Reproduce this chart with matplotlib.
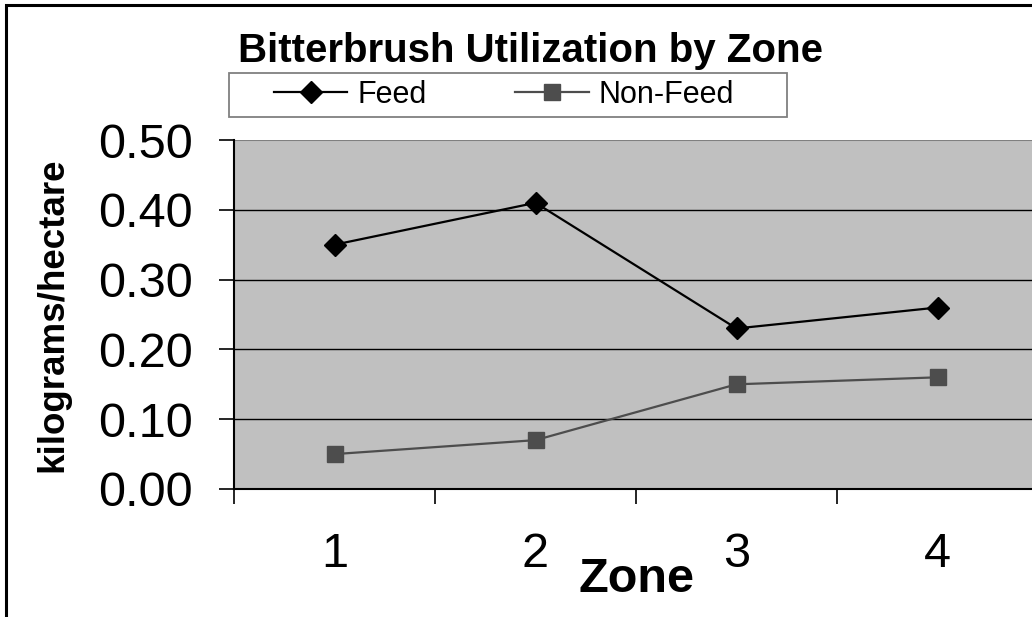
import matplotlib
matplotlib.use('Agg')
import matplotlib.pyplot as plt
from matplotlib.patches import Rectangle

plt.rcParams['font.family'] = ['Liberation Sans', 'DejaVu Sans']

zones = [1, 2, 3, 4]
zone_labels = ['1', '2', '3', '4']
feed = [0.35, 0.41, 0.23, 0.26]
non_feed = [0.05, 0.07, 0.15, 0.16]
y_ticks = [0.0, 0.1, 0.2, 0.3, 0.4, 0.5]

W, H = 1032, 617
fig = plt.figure(figsize=(W / 100, H / 100), dpi=100)

# plot area (right edge runs off the picture like the original)
ax = fig.add_axes([234 / W, 1 - 489 / H, 804 / W, 349 / H])
ax.set_facecolor('#c0c0c0')
ax.set_xlim(0.5, 4.5)
ax.set_ylim(0, 0.5)

# gridlines
for v in y_ticks[1:-1]:
    ax.axhline(v, color='black', lw=1.0, zorder=1)

ax.plot(zones, feed, color='black', lw=1.6, marker='D', markersize=11,
        label='Feed', zorder=3)
ax.plot(zones, non_feed, color='#4d4d4d', lw=1.6, marker='s', markersize=11,
        label='Non-Feed', zorder=3)

# spines
for s in ['top', 'right']:
    ax.spines[s].set_visible(False)
ax.axhline(0.5, color='#808080', lw=1.5, zorder=1)
ax.spines['left'].set_linewidth(1.5)
ax.spines['bottom'].set_linewidth(1.5)

# y axis
ax.set_yticks(y_ticks)
ax.set_yticklabels(['%.2f' % v for v in y_ticks])
ax.tick_params(axis='y', direction='out', length=11, width=1.2, pad=18.5,
               labelsize=35)

# x axis: boundary ticks, labels centred between them
ax.set_xticks([0.5, 1.5, 2.5, 3.5, 4.5])
ax.set_xticklabels([])
ax.set_xticks(zones, minor=True)
ax.set_xticklabels(zone_labels, minor=True)
ax.tick_params(axis='x', which='major', direction='out', length=11, width=1.2)
ax.tick_params(axis='x', which='minor', length=0, pad=31, labelsize=35)

fig.text(636 / W, 1 - 592 / H, 'Zone', fontsize=35, fontweight='bold',
         ha='center', va='baseline')
fig.text(53 / W, 1 - 315 / H, 'kilograms/hectare', fontsize=26.5,
         fontweight='bold', rotation=90, ha='center', va='center')
fig.text(531 / W, 1 - 62 / H, 'Bitterbrush Utilization by Zone', fontsize=29,
         fontweight='bold', ha='center', va='baseline')

leg = ax.legend(loc='center', bbox_to_anchor=(504 / W, 1 - 95 / H),
                bbox_transform=fig.transFigure, ncol=2, fontsize=22,
                frameon=False, handlelength=2.4, handletextpad=0.33,
                columnspacing=2.9, borderpad=0, borderaxespad=0)

# legend box drawn separately (wider margins than the legend padding)
fig.add_artist(Rectangle((229 / W, 1 - 117 / H), 558 / W, 44 / H,
                         transform=fig.transFigure, fill=False,
                         edgecolor='#808080', lw=1.3))

# outer chart border (cut off at right and bottom)
fig.add_artist(Rectangle((6 / W, -0.1), 1.2, 1.1 - 5 / H,
                         transform=fig.transFigure, fill=False,
                         edgecolor='black', lw=2.2))

fig.savefig('out.png', dpi=100)
